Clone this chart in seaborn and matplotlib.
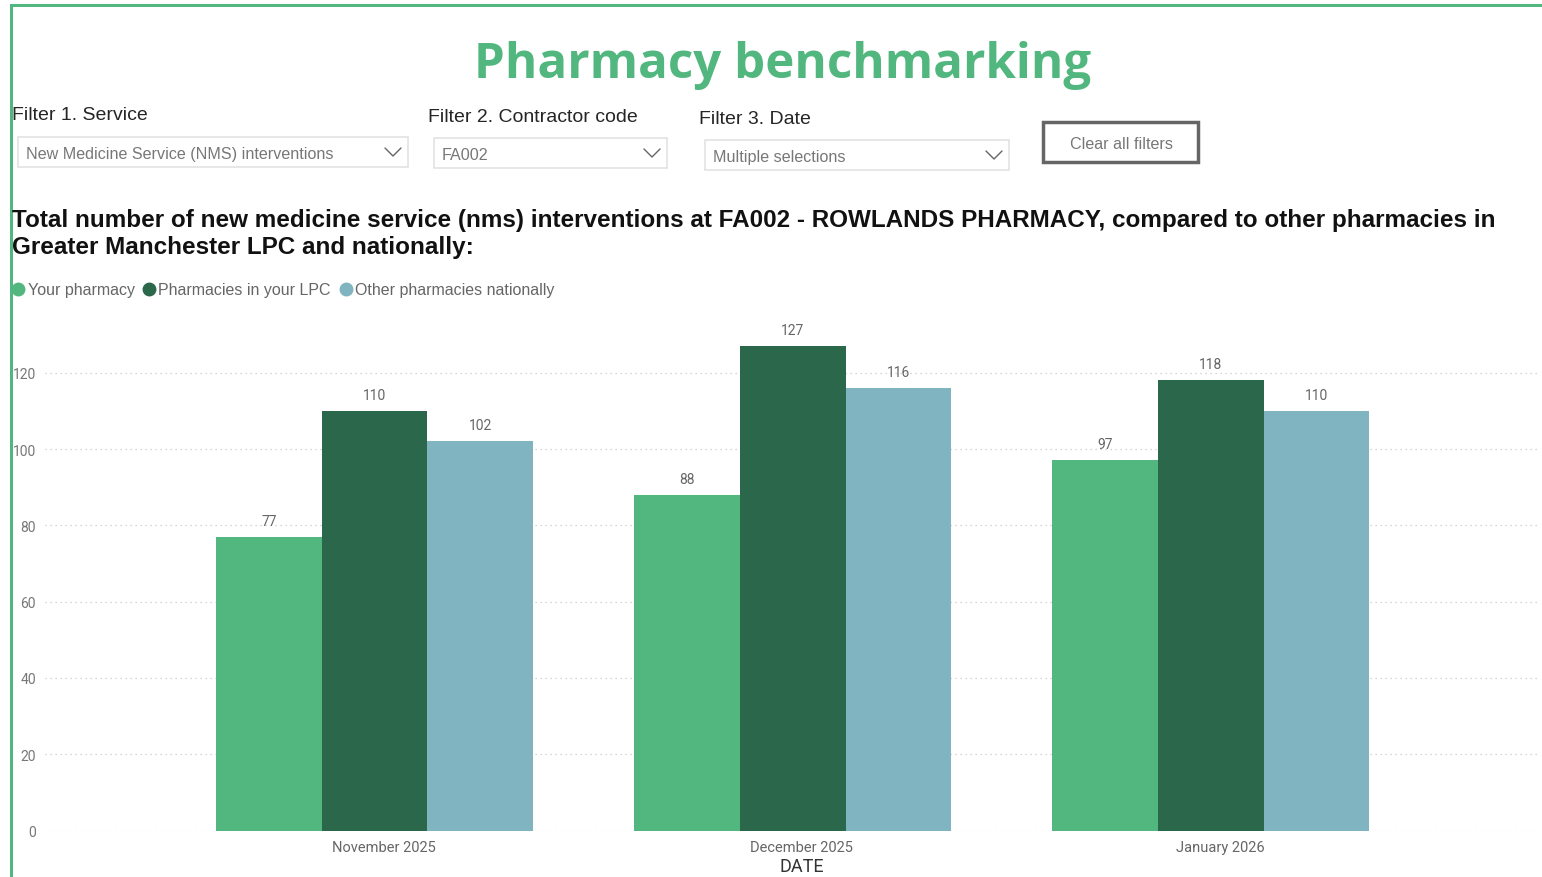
import matplotlib
matplotlib.use("Agg")
import matplotlib.pyplot as plt
import matplotlib.transforms as mtransforms
import seaborn as sns
import pandas as pd
from matplotlib.patches import Rectangle
from matplotlib.lines import Line2D

# ---- data ----
months = ["November 2025", "December 2025", "January 2026"]
series = ["Your pharmacy", "Pharmacies in your LPC", "Other pharmacies nationally"]
your_pharmacy = [77, 88, 97]
lpc_pharmacies = [110, 127, 118]
national_pharmacies = [102, 116, 110]
y_ticks = [0, 20, 40, 60, 80, 100, 120]
colors = ["#52B77E", "#2B684B", "#80B4C1"]

rows = []
for vals, name in zip([your_pharmacy, lpc_pharmacies, national_pharmacies], series):
    for m, v in zip(months, vals):
        rows.append({"DATE": m, "series": name, "value": v})
df = pd.DataFrame(rows)

sns.set_theme(style="white")
plt.rcParams["font.family"] = ["Liberation Sans", "DejaVu Sans"]

W, H = 1542, 878
fig = plt.figure(figsize=(W / 100, H / 100), dpi=100)

def fx(x):
    return x / W

def fy(y):
    return 1 - y / H

# axes placement
ax = fig.add_axes([fx(45), fy(831.5), fx(1540) - fx(45), fy(316.5) - fy(831.5)])
sns.barplot(data=df, x="DATE", y="value", hue="series", order=months,
            hue_order=series, palette=colors, width=0.758, gap=0,
            saturation=1, ax=ax, legend=False, edgecolor="none")
ax.set_ylim(0, 135)
ax.set_xlim(-0.788, 2.787)
ax.set_yticks(y_ticks)
ax.set_yticklabels([str(t) for t in y_ticks], fontsize=10, color="#777777",
                   family="Roboto")
ax.tick_params(axis="y", length=0, pad=6.5)
ax.tick_params(axis="x", length=0, pad=6.5)
shift = mtransforms.ScaledTranslation(9 / 100, 0, fig.dpi_scale_trans)
for lab in ax.get_xticklabels():
    lab.set_fontsize(10.5)
    lab.set_color("#666666")
    lab.set_family("Roboto")
    lab.set_transform(lab.get_transform() + shift)
ax.set_ylabel("")
ax.set_xlabel("DATE", fontsize=13, color="#333333", family="Roboto")
ax.xaxis.set_label_coords((802 - 45) / (1540 - 45), -(867 - 831.5) / (831.5 - 316.5),
                          transform=ax.transAxes)
ax.xaxis.label.set_va("center")
for s in ax.spines.values():
    s.set_visible(False)
ax.yaxis.grid(True, linestyle=(0, (1, 3)), color="#C8C8C8", linewidth=0.9)
ax.set_axisbelow(True)
for cont in ax.containers:
    ax.bar_label(cont, fmt="%d", padding=6.5, fontsize=10, color="#666666",
                 family="Roboto")

# ---- borders ----
fig.add_artist(Rectangle((fx(10), fy(878)), fx(3), fy(5) - fy(878),
                         transform=fig.transFigure, color="#52B77E", lw=0))
fig.add_artist(Rectangle((fx(10), fy(8)), 1 - fx(10), fy(5) - fy(8),
                         transform=fig.transFigure, color="#52B77E", lw=0))

# ---- title ----
fig.text(fx(783), fy(66), "Pharmacy benchmarking", ha="center", va="center",
         fontsize=35.5, fontweight="bold", color="#52B77E", family="Open Sans")

# ---- filters ----
fig.text(fx(12), fy(116), "Filter 1. Service", ha="left", va="center",
         fontsize=14, color="#252525")
fig.text(fx(428), fy(117), "Filter 2. Contractor code", ha="left", va="center",
         fontsize=14, color="#252525")
fig.text(fx(699), fy(119), "Filter 3. Date", ha="left", va="center",
         fontsize=14, color="#252525")

boxes = [(18, 138, 408, 168, "New Medicine Service (NMS) interventions"),
         (434, 139, 667, 169, "FA002"),
         (705, 141, 1009, 171, "Multiple selections")]
for x0, y0, x1, y1, txt in boxes:
    fig.add_artist(Rectangle((fx(x0), fy(y1)), fx(x1) - fx(x0), fy(y0) - fy(y1),
                             transform=fig.transFigure, facecolor="white",
                             edgecolor="#E3E3E3", lw=1.2))
    fig.text(fx(x0 + 8), fy((y0 + y1) / 2 + 1.5), txt, ha="left", va="center",
             fontsize=11.6, color="#777777")
    cx = x1 - 15
    cy = (y0 + y1) / 2
    fig.add_artist(Line2D([fx(cx - 8), fx(cx), fx(cx + 8)],
                          [fy(cy - 4), fy(cy + 4), fy(cy - 4)],
                          transform=fig.transFigure, color="#666666", lw=1.0))

# clear button
fig.add_artist(Rectangle((fx(1043), fy(163)), fx(1198) - fx(1043), fy(123) - fy(163),
                         transform=fig.transFigure, facecolor="white",
                         edgecolor="#666666", lw=2.5))
fig.text(fx(1121), fy(144.5), "Clear all filters", ha="center", va="center",
         fontsize=11.6, color="#777777")

# ---- subtitle ----
fig.text(fx(12), fy(221), "Total number of new medicine service (nms) interventions at FA002 - ROWLANDS PHARMACY, compared to other pharmacies in",
         ha="left", va="center", fontsize=17.5, fontweight="bold", color="#111111")
fig.text(fx(12), fy(248), "Greater Manchester LPC and nationally:",
         ha="left", va="center", fontsize=17.5, fontweight="bold", color="#111111")

# ---- legend ----
leg_items = [(18, 28, series[0], colors[0]),
             (149, 158, series[1], colors[1]),
             (346, 355, series[2], colors[2])]
for cxp, tx, name, col in leg_items:
    fig.add_artist(Line2D([fx(cxp)], [fy(290)], marker="o", markersize=9,
                          color=col, transform=fig.transFigure, lw=0))
    fig.text(fx(tx), fy(290.5), name, ha="left", va="center", fontsize=11.5,
             color="#666666")

fig.savefig("out.png", dpi=100)
